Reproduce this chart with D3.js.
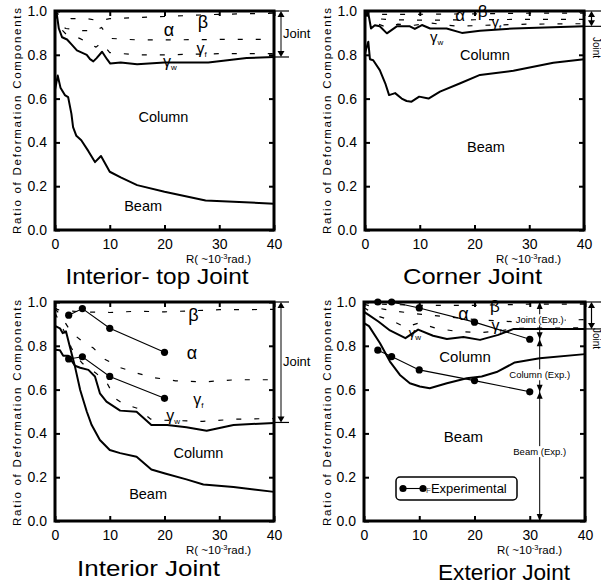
<!DOCTYPE html>
<html><head><meta charset="utf-8">
<script src="https://cdn.jsdelivr.net/npm/d3@7"></script>
<style>body{margin:0;background:#fff} svg{display:block} text{font-family:"Liberation Sans",Arial,sans-serif;fill:#000}</style>
</head><body>
<svg id="c" width="601" height="586"></svg>
<script>
// ---------- data ----------
const xTicks = [0,10,20,30,40];
const yTicks = [0,0.2,0.4,0.6,0.8,1.0];

// Interior-top Joint
const itBeamR = [0,0.5,1,1.8,2.4,3,3.3,3.9,4.8,6.1,7.3,8.4,10,12,15,20,27.5,40];
const itBeamV = [0.64,0.705,0.65,0.616,0.607,0.53,0.47,0.43,0.41,0.36,0.31,0.338,0.266,0.24,0.205,0.175,0.135,0.12];
const itWebR  = [0,0.3,0.7,1.3,2.2,3.1,4,4.9,5.8,6.4,7,7.6,8.6,9.5,10.1,12,15,20,28,35,40];
const itWebV  = [0.975,0.99,0.92,0.88,0.87,0.845,0.82,0.81,0.80,0.78,0.77,0.785,0.814,0.78,0.76,0.765,0.757,0.765,0.765,0.785,0.79];
const itD1R = [0,1,3,6,8,10,15,20,30,40];
const itD1V = [1.0,0.975,0.965,0.965,0.955,0.965,0.97,0.975,0.985,0.99];
const itD2R = [0,0.5,1,2,5,7.5,8.5,10,15,20,30,40];
const itD2V = [0.99,0.96,0.935,0.92,0.91,0.91,0.925,0.875,0.868,0.868,0.87,0.87];
const itD3R = [0,0.5,1,2,4.5,7.5,8.5,10,15,20,30,40];
const itD3V = [0.985,0.96,0.92,0.895,0.875,0.835,0.855,0.81,0.80,0.80,0.805,0.805];
const itJoint = [1.0,0.79];

// Corner Joint
const coBeamR = [0,0.6,0.9,1.5,2.7,3.7,4.4,5.5,6.7,7.6,8.5,9.9,11.6,13.7,17.4,21,27.1,34.4,40];
const coBeamV = [0.807,0.86,0.78,0.775,0.73,0.67,0.616,0.625,0.60,0.589,0.586,0.609,0.60,0.632,0.67,0.708,0.727,0.764,0.78];
const coWebR  = [0,0.6,1.1,1.8,2.7,4,5.8,8.2,9.1,10.4,11.9,14.9,17.7,21,27.1,40];
const coWebV  = [0.974,0.99,0.92,0.935,0.93,0.898,0.93,0.93,0.918,0.936,0.92,0.92,0.90,0.91,0.92,0.93];
const coD1R = [0,1,5,10,20,30,40];
const coD1V = [1.0,0.985,0.985,0.985,0.987,0.99,0.99];
const coD2R = [0,1,2,5,10,20,30,40];
const coD2V = [0.995,0.975,0.965,0.96,0.958,0.96,0.962,0.962];
const coD3R = [0,0.6,1,2,4,6,9,12,17,22,30,40];
const coD3V = [0.985,0.975,0.955,0.945,0.925,0.94,0.935,0.945,0.93,0.935,0.94,0.942];
const coJoint = [1.0,0.93];

// Interior Joint
const inBeamR = [0,0.9,1.4,2,2.7,3.65,4.6,5.8,6.7,8.2,10,11.9,14.9,17.6,20.1,24,27.1,32.6,40];
const inBeamV = [0.891,0.88,0.858,0.866,0.797,0.705,0.598,0.50,0.438,0.37,0.324,0.31,0.293,0.235,0.217,0.19,0.167,0.155,0.133];
const inWebR  = [0,0.9,1.5,2.4,3.65,4.6,6.1,7.3,8.2,9.4,11.9,14.9,17.6,20.5,24,27.7,32.6,40];
const inWebV  = [0.782,0.78,0.755,0.755,0.709,0.70,0.69,0.66,0.583,0.545,0.504,0.499,0.438,0.438,0.428,0.412,0.438,0.448];
const inD1R = [0,0.5,2,5,10,15,20,25,30,40];
const inD1V = [0.975,0.965,0.96,0.955,0.952,0.958,0.955,0.96,0.965,0.966];
const inD2R = [0,1,2,3,5,7,9,12,15,18,22,27,33,40];
const inD2V = [0.97,0.94,0.90,0.86,0.82,0.79,0.74,0.70,0.675,0.655,0.64,0.635,0.645,0.645];
const inD3R = [0,1,2,3,4,5,6,7.5,9.5,11,12.5,15,17.5,20,27,33,40];
const inD3V = [0.95,0.90,0.85,0.79,0.75,0.72,0.70,0.675,0.63,0.56,0.535,0.515,0.465,0.46,0.455,0.465,0.468];
const inExpR = [2.5,5,10,20];
const inExpUpper = [0.94,0.97,0.88,0.77];
const inExpLower = [0.74,0.75,0.66,0.56];
const inJoint = [1.0,0.45];

// Exterior Joint
const exBeamR = [0,0.9,2.9,4.7,6.5,8.3,10.1,11.9,15,18.6,21.3,24,27.3,31.8,40];
const exBeamV = [0.904,0.89,0.812,0.728,0.667,0.629,0.614,0.606,0.629,0.652,0.66,0.68,0.724,0.743,0.762];
const exWebR  = [0,0.9,2.6,4.7,7.5,9.8,12.5,15,18,21,24.3,27.1,40];
const exWebV  = [0.955,0.94,0.911,0.87,0.835,0.874,0.846,0.831,0.84,0.827,0.85,0.877,0.877];
const exD1R = [0,3,10,20,30,40];
const exD1V = [1.0,0.99,0.985,0.985,0.99,0.99];
const exD2R = [0,2,5,10,14,20,27,34,40];
const exD2V = [0.99,0.975,0.96,0.945,0.935,0.92,0.91,0.915,0.92];
const exD3R = [0,2,5,7.5,10,13,17,21,25,28,40];
const exD3V = [0.975,0.94,0.915,0.885,0.905,0.88,0.865,0.86,0.87,0.88,0.882];
const exExpR = [2.5,5,10,20,30];
const exExpUpper = [1.0,1.0,0.973,0.908,0.83];
const exExpLower = [0.78,0.751,0.69,0.641,0.59];
const exJoint = [1.0,0.877];
const exExpBracketR = 31.8;

// ---------- drawing ----------
const svg = d3.select('#c');
const SERIF = '"Liberation Serif","DejaVu Serif",serif';

function makePanel(b){
  const x = d3.scaleLinear().domain([0,40]).range([b.x0,b.x1]);
  const y = d3.scaleLinear().domain([0,1]).range([b.yb,b.yt]);
  const g = svg.append('g');
  return {g,x,y,b};
}

function axes(p, title, tx, ty, tw, ylx, yly){
  const {g,x,y,b} = p;
  const ax = [
    [d3.axisBottom(x).tickValues(xTicks).tickSizeInner(-5).tickSizeOuter(0).tickPadding(9), `translate(0,${b.yb})`],
    [d3.axisTop(x).tickValues(xTicks).tickSizeInner(-5).tickSizeOuter(0).tickFormat(''), `translate(0,${b.yt})`],
    [d3.axisLeft(y).tickValues(yTicks).tickSizeInner(-5).tickSizeOuter(0).tickPadding(8).tickFormat(d3.format('.1f')), `translate(${b.x0},0)`],
    [d3.axisRight(y).tickValues(yTicks).tickSizeInner(-5).tickSizeOuter(0).tickFormat(''), `translate(${b.x1},0)`]
  ];
  ax.forEach(([a,t])=>{
    const gg = g.append('g').attr('transform',t).call(a);
    gg.select('.domain').remove();
    gg.selectAll('line').attr('stroke','#000').attr('stroke-width',2);
    gg.selectAll('text').attr('font-size',14).attr('font-family','"Liberation Sans",Arial,sans-serif').attr('fill','#000');
  });
  g.append('rect').attr('x',b.x0).attr('y',b.yt).attr('width',b.x1-b.x0).attr('height',b.yb-b.yt)
    .attr('fill','none').attr('stroke','#000').attr('stroke-width',3);
  // x label
  const xl = g.append('text').attr('x',b.x1-88).attr('y',b.yb+33).attr('font-size',11.5);
  xl.append('tspan').text('R(  ~10');
  xl.append('tspan').attr('dy',-4).attr('font-size',7.5).text('-3');
  xl.append('tspan').attr('dy',4).text('rad.)');
  // y label
  g.append('text').attr('transform',`translate(${ylx},${yly}) rotate(-90)`).attr('text-anchor','middle')
    .attr('font-size',11.5).attr('textLength',226).attr('lengthAdjust','spacing')
    .text('Ratio of Deformation Components');
  // title
  g.append('text').attr('x',tx).attr('y',ty).attr('text-anchor','middle').attr('font-size',22)
    .attr('textLength',tw).attr('lengthAdjust','spacingAndGlyphs').text(title);
}

function curve(p, R, V, dashed){
  const line = d3.line().x(d=>p.x(d[0])).y(d=>p.y(d[1]));
  p.g.append('path').attr('d', line(d3.zip(R,V))).attr('fill','none').attr('stroke','#000')
    .attr('stroke-width', dashed?1.2:2).attr('stroke-dasharray', dashed?'5,13':null)
    .attr('stroke-linejoin','round');
}

function expSeries(p, R, V){
  const line = d3.line().x(d=>p.x(d[0])).y(d=>p.y(d[1]));
  p.g.append('path').attr('d', line(d3.zip(R,V))).attr('fill','none').attr('stroke','#000').attr('stroke-width',1.1);
  p.g.selectAll(null).data(d3.zip(R,V)).enter().append('circle')
    .attr('cx',d=>p.x(d[0])).attr('cy',d=>p.y(d[1])).attr('r',3.6).attr('fill','#000');
}

function arrowHead(g, x, yTip, dir, w, h){ // dir -1 up, +1 down
  g.append('path').attr('d',`M${x},${yTip}L${x-w},${yTip-dir*h}L${x+w},${yTip-dir*h}Z`).attr('fill','#000');
}

function jointBracket(p, vals, bx, xEnd, grey){
  const {g,y,b} = p;
  const y1 = y(vals[0]), y2 = y(vals[1]);
  g.append('line').attr('x1',b.x1).attr('x2',xEnd).attr('y1',y1).attr('y2',y1).attr('stroke','#000').attr('stroke-width',1.2);
  g.append('line').attr('x1',b.x1).attr('x2',xEnd).attr('y1',y2).attr('y2',y2).attr('stroke','#000').attr('stroke-width',1.2);
  g.append('line').attr('x1',bx).attr('x2',bx).attr('y1',y1+4).attr('y2',y2-4)
    .attr('stroke',grey?'#808080':'#000').attr('stroke-width',grey?2:1.2);
  arrowHead(g,bx,y1,-1,3.5,6);
  arrowHead(g,bx,y2,1,3.5,6);
}

function greek(p, R, v, ch, sub, size){
  const t = p.g.append('text').attr('x',p.x(R)).attr('y',p.y(v)).attr('dy','0.35em').attr('text-anchor','middle')
    .attr('font-family',SERIF).attr('font-size',size||18).text(ch);
  if(sub) t.append('tspan').attr('font-size',8).attr('dy',3).attr('font-family','"Liberation Sans",Arial,sans-serif').text(sub);
}
function label(p, R, v, s, size){
  p.g.append('text').attr('x',p.x(R)).attr('y',p.y(v)).attr('dy','0.35em').attr('text-anchor','middle')
    .attr('font-size',size||14.5).text(s);
}

// Panel 1 : Interior-top
const p1 = makePanel({x0:55,x1:274,yt:11,yb:230});
curve(p1,itD1R,itD1V,true); curve(p1,itD2R,itD2V,true); curve(p1,itD3R,itD3V,true);
curve(p1,itWebR,itWebV,false); curve(p1,itBeamR,itBeamV,false);
axes(p1,'Interior- top Joint',157,284,183,20.5,121);
jointBracket(p1,itJoint,281,289,true);
p1.g.append('text').attr('x',283).attr('y',38).attr('font-size',13).text('Joint');
greek(p1,27,0.951,'β'); greek(p1,20.8,0.913,'α'); greek(p1,26.8,0.83,'γ','f',16); greek(p1,21,0.77,'γ','w',16);
label(p1,19.8,0.515,'Column'); label(p1,16.1,0.11,'Beam');

// Panel 2 : Corner
const p2 = makePanel({x0:365,x1:584,yt:11,yb:230});
curve(p2,coD1R,coD1V,true); curve(p2,coD2R,coD2V,true); curve(p2,coD3R,coD3V,true);
curve(p2,coWebR,coWebV,false); curve(p2,coBeamR,coBeamV,false);
axes(p2,'Corner Joint',472.5,284,139,331,121);
jointBracket(p2,coJoint,591.5,601,false);
p2.g.append('text').attr('transform','translate(592.5,37) rotate(90)').attr('font-size',10).text('Joint');
greek(p2,17.4,0.982,'α',null,17); greek(p2,21.5,1.0,'β',null,17); greek(p2,24,0.95,'γ','f',15); greek(p2,13.1,0.883,'γ','w',15);
label(p2,21.9,0.80,'Column'); label(p2,22.1,0.38,'Beam');

// Panel 3 : Interior
const p3 = makePanel({x0:55,x1:274,yt:302,yb:521});
curve(p3,inD1R,inD1V,true); curve(p3,inD2R,inD2V,true); curve(p3,inD3R,inD3V,true);
curve(p3,inWebR,inWebV,false); curve(p3,inBeamR,inBeamV,false);
axes(p3,'Interior Joint',148.5,576,143,20.5,413);
expSeries(p3,inExpR,inExpUpper); expSeries(p3,inExpR,inExpLower);
jointBracket(p3,inJoint,281,289,true);
p3.g.append('text').attr('x',283).attr('y',366).attr('font-size',13).text('Joint');
greek(p3,25.3,0.942,'β'); greek(p3,25,0.767,'α'); greek(p3,26.2,0.553,'γ','f',16); greek(p3,21.6,0.484,'γ','w',16);
label(p3,26.2,0.309,'Column'); label(p3,17,0.122,'Beam');

// Panel 4 : Exterior
const p4 = makePanel({x0:364,x1:585,yt:302,yb:521});
curve(p4,exD1R,exD1V,true); curve(p4,exD2R,exD2V,true); curve(p4,exD3R,exD3V,true);
curve(p4,exWebR,exWebV,false); curve(p4,exBeamR,exBeamV,false);
axes(p4,'Exterior Joint',504,580,132,331,413);
expSeries(p4,exExpR,exExpUpper); expSeries(p4,exExpR,exExpLower);
jointBracket(p4,exJoint,591.5,601,false);
p4.g.append('text').attr('transform','translate(592.5,328) rotate(90)').attr('font-size',10).text('Joint');
// experimental bracket
(function(){
  const g = p4.g, bx = p4.x(exExpBracketR);
  const vTop = 1.0, vJ = exExpUpper[exExpUpper.length-1], vC = exExpLower[exExpLower.length-1], vB = 0;
  g.append('line').attr('x1',bx).attr('x2',bx).attr('y1',p4.y(vTop)).attr('y2',p4.y(vB)).attr('stroke','#000').attr('stroke-width',1);
  arrowHead(g,bx,p4.y(vTop),-1,3,7);
  arrowHead(g,bx,p4.y(vJ),1,3,7); arrowHead(g,bx,p4.y(vJ),-1,3,7);
  arrowHead(g,bx,p4.y(vC),1,3,7); arrowHead(g,bx,p4.y(vC),-1,3,7);
  arrowHead(g,bx,p4.y(vB),1,3,7);
  [['Joint (Exp.)',0.918],['Column (Exp.)',0.667],['Beam (Exp.)',0.316]].forEach(([s,v])=>{
    const t = g.append('text').attr('x',bx).attr('y',p4.y(v)).attr('dy','0.35em').attr('text-anchor','middle').attr('font-size',9.5).text(s);
    const bb = t.node().getBBox();
    g.insert('rect', function(){return t.node();}).attr('x',bb.x-1).attr('y',bb.y).attr('width',bb.width+2).attr('height',bb.height).attr('fill','#fff');
  });
})();
greek(p4,23.7,0.98,'β',null,17); greek(p4,18,0.945,'α',null,18); greek(p4,24,0.895,'γ','f',16); greek(p4,9.2,0.86,'γ','w',13);
label(p4,18.3,0.75,'Column',15); label(p4,18,0.385,'Beam',15);
// legend
(function(){
  const g = p4.g;
  g.append('rect').attr('x',396).attr('y',477).attr('width',121).attr('height',23).attr('rx',4)
    .attr('fill','#fff').attr('stroke','#000').attr('stroke-width',1.5);
  g.append('line').attr('x1',402).attr('x2',423).attr('y1',488.5).attr('y2',488.5).attr('stroke','#000').attr('stroke-width',1.1);
  g.append('circle').attr('cx',403).attr('cy',488.5).attr('r',3.6);
  g.append('circle').attr('cx',423).attr('cy',488.5).attr('r',3.6);
  const t = g.append('text').attr('x',426).attr('y',493).attr('font-size',13);
  t.append('tspan').attr('font-size',8).attr('fill','#444').text('F');
  t.append('tspan').text('Experimental');
})();
</script>
</body></html>
